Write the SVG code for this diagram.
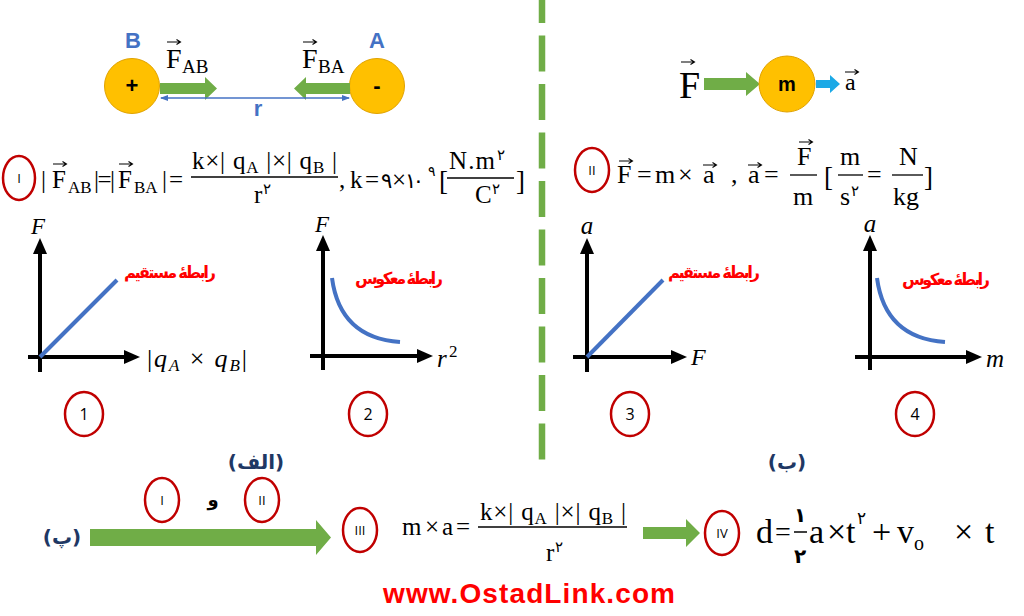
<svg xmlns="http://www.w3.org/2000/svg" xmlns:xlink="http://www.w3.org/1999/xlink" width="1024" height="616" viewBox="0 0 1024 616">
<style>
.s{font-family:"Liberation Serif","DejaVu Serif",serif;fill:#000}
.i{font-style:italic}
.fa{font-family:"DejaVu Sans","Noto Sans",sans-serif;fill:#000}
.ar{font-family:"DejaVu Sans","Noto Sans",sans-serif;font-weight:bold}
.lbl{fill:#FF0000;font-size:16.5px}
.nv{fill:#1F3864;font-size:20px}
.rc{fill:none;stroke:#C00000;stroke-width:2.5}
.rn{font-family:"Open Sans","Liberation Sans",sans-serif;font-size:13px;fill:#000}
.cn{font-family:"Open Sans","Liberation Sans",sans-serif;font-size:16px;fill:#000}
.ax{stroke:#000;stroke-width:4;fill:none}
.bl{stroke:#4472C4;stroke-width:4;fill:none}
.gr{fill:#70AD47}
.ball{fill:#FFC000;stroke:#E0A200;stroke-width:1}
.fl{stroke:#000;stroke-width:1.3}
</style>
<defs>
<marker id="ah" markerUnits="userSpaceOnUse" markerWidth="16" markerHeight="16" viewBox="0 0 16 16" refX="3" refY="8" orient="auto"><path d="M0,1 L16,8 L0,15 z" fill="#000"/></marker>
<marker id="sa" markerUnits="userSpaceOnUse" markerWidth="8" markerHeight="8" viewBox="0 0 8 8" refX="7" refY="4" orient="auto-start-reverse"><path d="M0,1 L8,4 L0,7 z" fill="#4472C4"/></marker>
<path id="vec" d="M0,0 H13 M9.5,-2.5 L13.5,0 L9.5,2.5" fill="none" stroke="#000" stroke-width="1.1"/>
</defs>

<!-- divider -->
<line x1="542" y1="0" x2="542" y2="466" stroke="#70AD47" stroke-width="6.5" stroke-dasharray="36 12.5" stroke-dashoffset="13"/>

<!-- charges -->
<g id="charge-B">
<circle class="ball" cx="132" cy="86" r="27.5"/>
<text x="132" y="93" font-family="Liberation Sans,sans-serif" font-weight="bold" font-size="22" text-anchor="middle">+</text>
<text x="133" y="48" font-family="Liberation Sans,sans-serif" font-weight="bold" font-size="22" fill="#4472C4" text-anchor="middle">B</text>
</g>
<g id="charge-A">
<circle class="ball" cx="377" cy="86" r="27.5"/>
<text x="377" y="93" font-family="Liberation Sans,sans-serif" font-weight="bold" font-size="22" text-anchor="middle">-</text>
<text x="377" y="48" font-family="Liberation Sans,sans-serif" font-weight="bold" font-size="22" fill="#4472C4" text-anchor="middle">A</text>
</g>
<g id="forces">
<polygon class="gr" points="160,83 205,83 205,77 217,88.5 205,100 205,94 160,94"/>
<polygon class="gr" points="350,83 306,83 306,77 294,88.5 306,100 306,94 350,94"/>
<line x1="161" y1="98" x2="349" y2="98" stroke="#4472C4" stroke-width="1.3" marker-start="url(#sa)" marker-end="url(#sa)"/>
<text x="258" y="116" font-family="Liberation Sans,sans-serif" font-weight="bold" font-size="22" fill="#4472C4" text-anchor="middle">r</text>
<text class="s" x="166" y="68" font-size="28">F</text><text class="s" x="182" y="73" font-size="19">AB</text>
<use xlink:href="#vec" x="167" y="42"/>
<text class="s" x="302" y="68" font-size="28">F</text><text class="s" x="318" y="73" font-size="19">BA</text>
<use xlink:href="#vec" x="303" y="42"/>
</g>

<!-- mass -->
<g id="mass">
<text class="s" x="679" y="98" font-size="38">F</text>
<use xlink:href="#vec" x="681" y="62"/>
<polygon class="gr" points="704,78 746,78 746,72 760,84 746,96 746,90 704,90"/>
<circle class="ball" cx="787" cy="84" r="28"/>
<text x="787" y="91" font-family="Liberation Sans,sans-serif" font-weight="bold" font-size="20" text-anchor="middle">m</text>
<polygon points="816,80 830,80 830,75 840,84 830,93 830,88 816,88" fill="#1CA9E6"/>
<text class="s" x="845" y="90" font-size="24">a</text>
<use xlink:href="#vec" x="845" y="72"/>
</g>

<!-- formula I -->
<g id="formula-I" class="s" font-size="25">
<ellipse class="rc" cx="19" cy="178" rx="16" ry="22"/>
<text class="rn" x="19" y="183" text-anchor="middle">I</text>
<text x="41" y="188">|</text>
<text x="52" y="188">F</text><text x="68" y="193" font-size="17">AB</text>
<use xlink:href="#vec" x="53" y="164"/>
<text x="94" y="188" textLength="21">|=|</text>
<text x="118" y="188">F</text><text x="134" y="193" font-size="17">BA</text>
<use xlink:href="#vec" x="119" y="164"/>
<text x="162" y="188" textLength="21">|=</text>
<text x="192" y="169" textLength="145">k×| q<tspan font-size="17" dy="4">A</tspan><tspan dy="-4"> |×| q</tspan><tspan font-size="17" dy="4">B</tspan><tspan dy="-4"> |</tspan></text>
<line class="fl" x1="191" y1="177" x2="338" y2="177"/>
<text x="254" y="203">r</text><text class="fa" x="263" y="194" font-size="15">۲</text>
<text x="339" y="188">,</text>
<text x="350" y="188">k</text>
<text x="365" y="188">=</text>
<text class="fa" x="381" y="188" font-size="21">۹</text>
<text x="392" y="188">×</text>
<text class="fa" x="405" y="188" font-size="21" textLength="19">۱۰</text>
<text class="fa" x="428" y="176" font-size="14">۹</text>
<text x="439" y="190" font-size="27">[</text>
<text x="449" y="169" textLength="46">N.m</text><text class="fa" x="497" y="160" font-size="15">۲</text>
<line class="fl" x1="447" y1="178" x2="514" y2="178"/>
<text x="475" y="203">C</text><text class="fa" x="492" y="194" font-size="15">۲</text>
<text x="516" y="190" font-size="27">]</text>
</g>

<!-- formula II -->
<g id="formula-II" class="s" font-size="26">
<ellipse class="rc" cx="592" cy="170" rx="17" ry="22"/>
<text class="rn" x="592" y="175" text-anchor="middle">II</text>
<text x="617" y="183">F</text>
<use xlink:href="#vec" x="619" y="161"/>
<text x="637" y="183">=</text>
<text x="655" y="183">m</text>
<text x="678" y="183">×</text>
<text x="703" y="183">a</text>
<use xlink:href="#vec" x="703" y="165"/>
<text x="731" y="183">,</text>
<text x="748" y="183">a</text>
<use xlink:href="#vec" x="748" y="165"/>
<text x="764" y="183">=</text>
<text x="797" y="165">F</text>
<use xlink:href="#vec" x="799" y="142"/>
<line class="fl" x1="790" y1="175" x2="817" y2="175"/>
<text x="793" y="205">m</text>
<text x="824" y="186" font-size="27">[</text>
<text x="840" y="165">m</text>
<line class="fl" x1="838" y1="175" x2="863" y2="175"/>
<text x="840" y="205">s</text><text class="fa" x="851" y="196" font-size="15">۲</text>
<text x="867" y="183">=</text>
<text x="899" y="165">N</text>
<line class="fl" x1="892" y1="175" x2="923" y2="175"/>
<text x="893" y="205">kg</text>
<text x="924" y="186" font-size="27">]</text>
</g>

<!-- graphs -->
<g id="graph-1">
<line class="ax" x1="40" y1="372" x2="40" y2="251" marker-end="url(#ah)"/>
<line class="ax" x1="28" y1="357" x2="127" y2="357" marker-end="url(#ah)"/>
<line class="bl" x1="40" y1="357" x2="117" y2="280"/>
<text class="s i" x="38" y="234" font-size="23" text-anchor="middle">F</text>
<text class="s" x="147" y="367" font-size="26" textLength="100">|<tspan class="i">q</tspan><tspan class="i" font-size="17" dy="4">A</tspan><tspan dy="-4"> × </tspan><tspan class="i">q</tspan><tspan class="i" font-size="17" dy="4">B</tspan><tspan dy="-4">|</tspan></text>
<text class="ar lbl" x="170" y="278" text-anchor="middle" direction="rtl" textLength="92">رابطهٔ مستقیم</text>
<ellipse class="rc" cx="84" cy="414" rx="19" ry="22"/>
<text class="cn" x="84" y="420" text-anchor="middle">1</text>
</g>
<g id="graph-2">
<line class="ax" x1="323" y1="370" x2="323" y2="248" marker-end="url(#ah)"/>
<line class="ax" x1="310" y1="356" x2="420" y2="356" marker-end="url(#ah)"/>
<path class="bl" d="M332,278 Q340,338 400,342"/>
<text class="s i" x="322" y="232" font-size="23" text-anchor="middle">F</text>
<text class="s i" x="437" y="367" font-size="25">r</text><text class="s" x="449" y="357" font-size="17">2</text>
<text class="ar lbl" x="399" y="284" text-anchor="middle" direction="rtl" textLength="88">رابطهٔ معکوس</text>
<ellipse class="rc" cx="368" cy="414" rx="19" ry="22"/>
<text class="cn" x="368" y="420" text-anchor="middle">2</text>
</g>
<g id="graph-3">
<line class="ax" x1="587" y1="372" x2="587" y2="251" marker-end="url(#ah)"/>
<line class="ax" x1="573" y1="357" x2="674" y2="357" marker-end="url(#ah)"/>
<line class="bl" x1="587" y1="357" x2="663" y2="280"/>
<text class="s i" x="587" y="234" font-size="25" text-anchor="middle">a</text>
<text class="s i" x="691" y="365" font-size="24">F</text>
<text class="ar lbl" x="714" y="278" text-anchor="middle" direction="rtl" textLength="92">رابطهٔ مستقیم</text>
<ellipse class="rc" cx="630" cy="414" rx="19" ry="22"/>
<text class="cn" x="630" y="420" text-anchor="middle">3</text>
</g>
<g id="graph-4">
<line class="ax" x1="870" y1="370" x2="870" y2="248" marker-end="url(#ah)"/>
<line class="ax" x1="855" y1="357" x2="969" y2="357" marker-end="url(#ah)"/>
<path class="bl" d="M877,278 Q885,338 945,342"/>
<text class="s i" x="870" y="232" font-size="25" text-anchor="middle">a</text>
<text class="s i" x="986" y="367" font-size="25">m</text>
<text class="ar lbl" x="946" y="285" text-anchor="middle" direction="rtl" textLength="88">رابطهٔ معکوس</text>
<ellipse class="rc" cx="915" cy="414" rx="19" ry="22"/>
<text class="cn" x="915" y="420" text-anchor="middle">4</text>
</g>

<text class="ar nv" x="256" y="469" text-anchor="middle" direction="rtl">(الف)</text>
<text class="ar nv" x="787" y="469" text-anchor="middle" direction="rtl">(ب)</text>

<!-- bottom -->
<g id="combine">
<text class="ar nv" x="62" y="544" font-size="21" text-anchor="middle" direction="rtl">(پ)</text>
<polygon class="gr" points="90,529 316,529 316,520 331,537.5 316,555 316,546 90,546"/>
<ellipse class="rc" cx="162" cy="500" rx="17" ry="22"/>
<text class="rn" x="162" y="505" text-anchor="middle">I</text>
<text class="ar" x="213" y="506" font-size="18" text-anchor="middle">و</text>
<ellipse class="rc" cx="262" cy="500" rx="17" ry="22"/>
<text class="rn" x="262" y="505" text-anchor="middle">II</text>
</g>
<g id="formula-III" class="s" font-size="25">
<ellipse class="rc" cx="360" cy="530" rx="17" ry="22"/>
<text class="rn" x="360" y="535" text-anchor="middle">III</text>
<text x="402" y="535">m</text>
<text x="425" y="535">×</text>
<text x="442" y="535">a</text>
<text x="456" y="535">=</text>
<text x="480" y="520" textLength="146">k×| q<tspan font-size="17" dy="4">A</tspan><tspan dy="-4"> |×| q</tspan><tspan font-size="17" dy="4">B</tspan><tspan dy="-4"> |</tspan></text>
<line class="fl" x1="478" y1="527" x2="627" y2="527"/>
<text x="546" y="561">r</text><text class="fa" x="555" y="552" font-size="15">۲</text>
</g>
<polygon id="arrow-III-IV" class="gr" points="643,527 686,527 686,519 700,533 686,547 686,539 643,539"/>
<g id="formula-IV" class="s" font-size="34">
<ellipse class="rc" cx="722" cy="533" rx="17" ry="22"/>
<text class="rn" x="722" y="538" text-anchor="middle">IV</text>
<text x="756" y="543">d</text>
<text x="775" y="541" font-size="28">=</text>
<text class="fa" x="800" y="522" font-size="20" font-weight="bold" text-anchor="middle">۱</text>
<line x1="794" y1="532" x2="807" y2="532" stroke="#000" stroke-width="1.5"/>
<text class="fa" x="800" y="563" font-size="20" font-weight="bold" text-anchor="middle">۲</text>
<text x="809" y="543">a</text>
<text x="827" y="543">×</text>
<text x="846" y="543">t</text>
<text class="fa" x="857" y="524" font-size="17">۲</text>
<text x="872" y="543">+</text>
<text x="897" y="543">v</text>
<text x="914" y="550" font-size="20">o</text>
<text x="954" y="543">×</text>
<text x="985" y="543">t</text>
</g>

<text x="529" y="603" font-family="Liberation Sans,sans-serif" font-weight="bold" font-size="28" fill="#FF0000" text-anchor="middle" textLength="292">www.OstadLink.com</text>
</svg>
